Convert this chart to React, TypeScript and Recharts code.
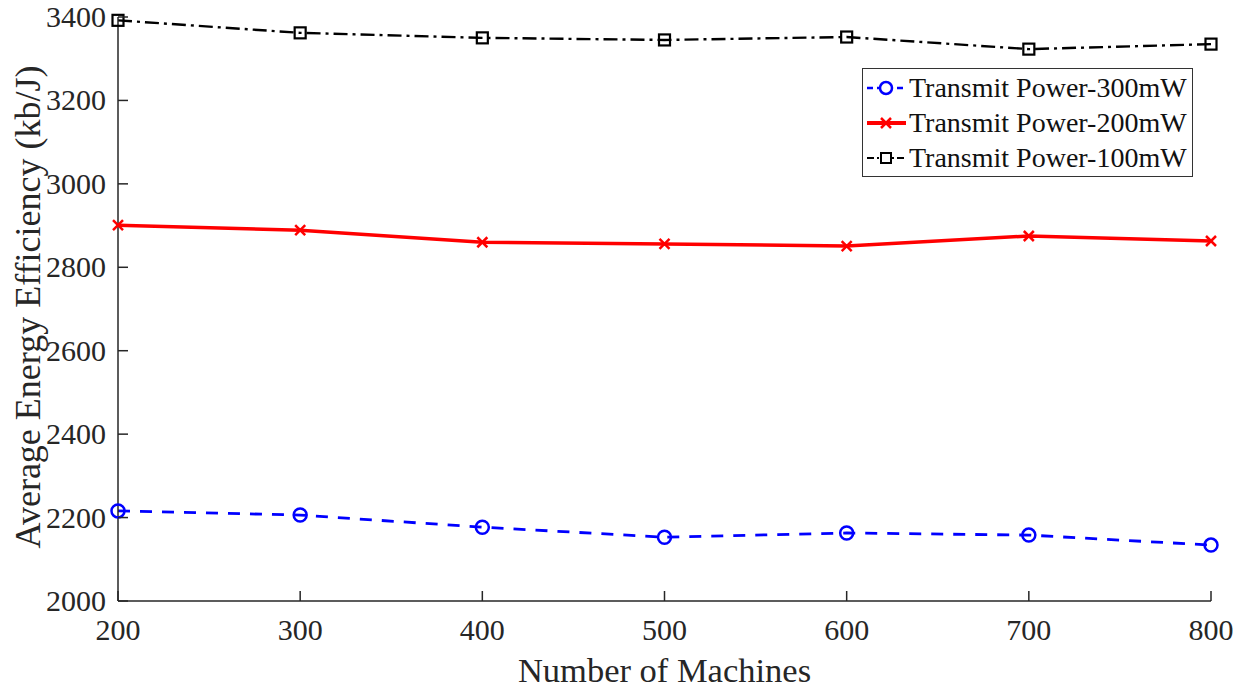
import { LineChart, Line, XAxis, YAxis } from 'recharts';

const machines = [200, 300, 400, 500, 600, 700, 800];
const power300 = [2216, 2206, 2177, 2153, 2163, 2158, 2134];
const power200 = [2901, 2889, 2860, 2856, 2851, 2875, 2863];
const power100 = [3392, 3362, 3350, 3345, 3352, 3323, 3335];
const xTicks = [200, 300, 400, 500, 600, 700, 800];
const yTicks = [2000, 2200, 2400, 2600, 2800, 3000, 3200, 3400];

const data = machines.map((m, i) => ({
    machines: m,
    p300: power300[i],
    p200: power200[i],
    p100: power100[i],
}));

const FONT = '"Liberation Serif", "Times New Roman", serif';
const AXIS = '#262626';
const TICK_LEN = 10;

// ticks point inward, like matlab
const BottomTick = ({ x, y, payload }: any) => (
    <g>
        <line x1={x} y1={y} x2={x} y2={y - TICK_LEN} stroke={AXIS} strokeWidth={1.5} />
        <text x={x} y={y + 39} textAnchor="middle" style={{ fontFamily: FONT }} fontSize={30} fill="#262626">
            {payload.value}
        </text>
    </g>
);

const LeftTick = ({ x, y, payload }: any) => (
    <g>
        <line x1={x} y1={y} x2={x + TICK_LEN} y2={y} stroke={AXIS} strokeWidth={1.5} />
        <text x={x - 12} y={y + 10} textAnchor="end" style={{ fontFamily: FONT }} fontSize={30} fill="#262626">
            {payload.value}
        </text>
    </g>
);

const TopTick = ({ x, y }: any) => (
    <line x1={x} y1={y} x2={x} y2={y + TICK_LEN} stroke={AXIS} strokeWidth={1.5} />
);

const RightTick = ({ x, y }: any) => (
    <line x1={x} y1={y} x2={x - TICK_LEN} y2={y} stroke={AXIS} strokeWidth={1.5} />
);

const CircleDot = (props: any) => {
    const { cx, cy } = props;
    if (cx == null || cy == null) return null;
    return <circle key={`c${cx}`} cx={cx} cy={cy} r={6.5} fill="none" stroke="#0000ff" strokeWidth={2.5} />;
};

const CrossDot = (props: any) => {
    const { cx, cy } = props;
    if (cx == null || cy == null) return null;
    const s = 5;
    return (
        <g key={`x${cx}`} stroke="#ff0000" strokeWidth={2.5}>
            <line x1={cx - s} y1={cy - s} x2={cx + s} y2={cy + s} />
            <line x1={cx - s} y1={cy + s} x2={cx + s} y2={cy - s} />
        </g>
    );
};

const SquareDot = (props: any) => {
    const { cx, cy } = props;
    if (cx == null || cy == null) return null;
    return <rect key={`s${cx}`} x={cx - 5.5} y={cy - 5.5} width={11} height={11} fill="none" stroke="#000" strokeWidth={2.2} />;
};

const legendItems = [
    { label: 'Transmit Power-300mW', color: '#0000ff', dash: '6 4', width: 2.5, marker: 'circle' },
    { label: 'Transmit Power-200mW', color: '#ff0000', dash: undefined, width: 4, marker: 'cross' },
    { label: 'Transmit Power-100mW', color: '#000000', dash: '7 3 2 3', width: 2, marker: 'square' },
];

const LegendBox = () => (
    <div
        style={{
            position: 'absolute',
            left: 862,
            top: 68,
            border: '1.5px solid #333',
            background: '#fff',
            padding: '1px 5px 1px 3px',
            fontFamily: FONT,
            fontSize: 28,
            color: '#111',
            lineHeight: '35px',
        }}
    >
        {legendItems.map((it) => (
            <div key={it.label} style={{ display: 'flex', alignItems: 'center', whiteSpace: 'nowrap' }}>
                <svg width={41} height={20} style={{ marginRight: 2, flex: 'none' }}>
                    <line x1={1} y1={10} x2={40} y2={10} stroke={it.color} strokeWidth={it.width} strokeDasharray={it.dash} />
                    {it.marker === 'circle' && <circle cx={20} cy={10} r={6} fill="#fff" stroke={it.color} strokeWidth={2.5} />}
                    {it.marker === 'cross' && (
                        <g stroke={it.color} strokeWidth={2.5}>
                            <line x1={15} y1={5} x2={25} y2={15} />
                            <line x1={15} y1={15} x2={25} y2={5} />
                        </g>
                    )}
                    {it.marker === 'square' && <rect x={15} y={5} width={10} height={10} fill="#fff" stroke={it.color} strokeWidth={2} />}
                </svg>
                <span>{it.label}</span>
            </div>
        ))}
    </div>
);

const YLabel = ({ viewBox }: any) => {
    const cx = viewBox.x + 28;
    const cy = viewBox.y + viewBox.height / 2 - 2;
    return (
        <text
            x={cx}
            y={cy}
            transform={`rotate(-90 ${cx} ${cy})`}
            textAnchor="middle"
            dominantBaseline="central"
            style={{ fontFamily: FONT }}
            fontSize={36}
            fill="#262626"
        >
            Average Energy Efficiency (kb/J)
        </text>
    );
};

const XLabel = ({ viewBox }: any) => (
    <text
        x={viewBox.x + viewBox.width / 2}
        y={viewBox.y + 81}
        textAnchor="middle"
        style={{ fontFamily: FONT }}
        fontSize={34.5}
        fill="#262626"
    >
        Number of Machines
    </text>
);

export default function App() {
    return (
        <div style={{ position: 'absolute', left: 0, top: 0, width: 1247, height: 691, background: '#fff', fontFamily: FONT }}>
            <LineChart width={1247} height={691} data={data} margin={{ top: 17, right: 36, bottom: 0, left: 0 }}>
                <XAxis
                    xAxisId="bottom"
                    dataKey="machines"
                    type="number"
                    domain={[200, 800]}
                    ticks={xTicks}
                    height={90}
                    stroke={AXIS}
                    strokeWidth={1.5}
                    tickLine={false}
                    tickSize={0}
                    tickMargin={0}
                    tick={<BottomTick />}
                    label={<XLabel />}
                />
                <XAxis
                    xAxisId="top"
                    orientation="top"
                    dataKey="machines"
                    type="number"
                    domain={[200, 800]}
                    ticks={xTicks}
                    height={0}
                    stroke={AXIS}
                    strokeWidth={1.5}
                    tickLine={false}
                    tickSize={0}
                    tickMargin={0}
                    tick={<TopTick />}
                />
                <YAxis
                    yAxisId="left"
                    type="number"
                    domain={[2000, 3400]}
                    ticks={yTicks}
                    width={118}
                    stroke={AXIS}
                    strokeWidth={1.5}
                    tickLine={false}
                    tickSize={0}
                    tickMargin={0}
                    tick={<LeftTick />}
                    label={<YLabel />}
                />
                <YAxis
                    yAxisId="right"
                    orientation="right"
                    type="number"
                    domain={[2000, 3400]}
                    ticks={yTicks}
                    width={0}
                    stroke={AXIS}
                    strokeWidth={1.5}
                    tickLine={false}
                    tickSize={0}
                    tickMargin={0}
                    tick={<RightTick />}
                />
                <Line
                    xAxisId="bottom"
                    yAxisId="left"
                    type="linear"
                    dataKey="p300"
                    stroke="#0000ff"
                    strokeWidth={2.8}
                    strokeDasharray="12 10"
                    dot={<CircleDot />}
                    isAnimationActive={false}
                />
                <Line
                    xAxisId="bottom"
                    yAxisId="left"
                    type="linear"
                    dataKey="p200"
                    stroke="#ff0000"
                    strokeWidth={3.5}
                    dot={<CrossDot />}
                    isAnimationActive={false}
                />
                <Line
                    xAxisId="bottom"
                    yAxisId="left"
                    type="linear"
                    dataKey="p100"
                    stroke="#000000"
                    strokeWidth={2.4}
                    strokeDasharray="14 5 3 5"
                    dot={<SquareDot />}
                    isAnimationActive={false}
                />
            </LineChart>
            <LegendBox />
        </div>
    );
}
